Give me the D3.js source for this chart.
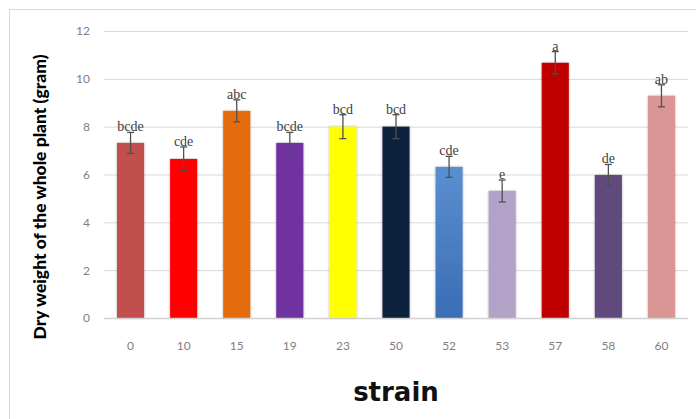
<!DOCTYPE html>
<meta charset="utf-8">
<html>
<head>
<style>
  body { margin: 0; background: #fff; }
  .tick text { fill: #7f7f7f; font-family: Lato, "Open Sans", sans-serif; font-size: 12px; }
  .grid line { stroke: #d9d9d9; }
  .sig { font-family: "Liberation Serif", "DejaVu Serif", serif; font-size: 14px; fill: #404040; }
</style>
<script src="https://d3js.org/d3.v7.min.js"></script>
</head>
<body>
<div id="chart"></div>
<script>
// data
var strains = ["0", "10", "15", "19", "23", "50", "52", "53", "57", "58", "60"];
var means   = [7.32, 6.65, 8.66, 7.32, 8.0, 8.0, 6.32, 5.31, 10.67, 5.98, 9.29];
var errs    = [0.44, 0.5, 0.46, 0.44, 0.5, 0.5, 0.44, 0.46, 0.47, 0.44, 0.46];
var letters = ["bcde", "cde", "abc", "bcde", "bcd", "bcd", "cde", "e", "a", "de", "ab"];
var colors  = ["#c0504d", "#ff0000", "#e46c0a", "#7030a0", "#ffff00", "#10243e",
               "#4a7fc1", "#b3a2c7", "#c00000", "#604a7b", "#d99694"];
var yTicks  = [0, 2, 4, 6, 8, 10, 12];

var W = 696, H = 419;
var svg = d3.select("#chart").append("svg")
  .attr("width", W).attr("height", H);

// outer frame of the chart area
svg.append("rect")
  .attr("x", 9.5).attr("y", 9.5)
  .attr("width", W).attr("height", H)
  .attr("fill", "#fff").attr("stroke", "#d9d9d9");

var x = d3.scaleBand().domain(strains).range([104, 688]).paddingInner(0.49).paddingOuter(0.245);
var y = d3.scaleLinear().domain([0, 12]).range([318, 31]);

// gridlines
svg.append("g").attr("class", "grid")
  .selectAll("line").data(yTicks.slice(1)).enter().append("line")
  .attr("x1", 104).attr("x2", 688)
  .attr("y1", d => y(d) + 0.5).attr("y2", d => y(d) + 0.5);

// y axis labels
svg.append("g")
  .attr("transform", "translate(104,0)")
  .call(d3.axisLeft(y).tickValues(yTicks).tickSize(0).tickPadding(14))
  .call(g => g.select(".domain").remove());

// shadow filter for the bars
var defs = svg.append("defs");
var f = defs.append("filter").attr("id", "shadow").attr("x", "-20%").attr("y", "-10%").attr("width", "140%").attr("height", "120%");
f.append("feDropShadow").attr("dx", 0).attr("dy", 0).attr("stdDeviation", 1.2)
  .attr("flood-color", "#000").attr("flood-opacity", 0.35);

var grad = defs.append("linearGradient").attr("id", "blue").attr("x1", 0).attr("x2", 0).attr("y1", 0).attr("y2", 1);
grad.append("stop").attr("offset", "0%").attr("stop-color", "#5b8fd0");
grad.append("stop").attr("offset", "100%").attr("stop-color", "#3a6db5");

svg.append("g").selectAll("rect").data(strains).enter().append("rect")
  .attr("x", d => x(d))
  .attr("y", (d, i) => y(means[i]))
  .attr("width", x.bandwidth())
  .attr("height", (d, i) => y(0) - y(means[i]))
  .attr("fill", (d, i) => i === 6 ? "url(#blue)" : colors[i])
  .attr("filter", "url(#shadow)");

// baseline
svg.append("line")
  .attr("x1", 104).attr("x2", 688)
  .attr("y1", y(0) + 0.5).attr("y2", y(0) + 0.5)
  .attr("stroke", "#d0d0d0").attr("stroke-width", 1.5);

// x axis labels
svg.append("g")
  .attr("transform", "translate(0," + y(0) + ")")
  .call(d3.axisBottom(x).tickSize(0).tickPadding(23))
  .call(g => g.select(".domain").remove());

// error bars
var eb = svg.append("g").attr("stroke", "#505050").attr("stroke-width", 1.3);
strains.forEach(function(s, i) {
  var cx = x(s) + x.bandwidth() / 2;
  var t = y(means[i] + errs[i]), b = y(means[i] - errs[i]);
  eb.append("line").attr("x1", cx).attr("x2", cx).attr("y1", t).attr("y2", b);
  eb.append("line").attr("x1", cx - 3.5).attr("x2", cx + 3.5).attr("y1", t).attr("y2", t);
  eb.append("line").attr("x1", cx - 3.5).attr("x2", cx + 3.5).attr("y1", b).attr("y2", b);
});

// significance letters
svg.append("g").selectAll("text").data(strains).enter().append("text")
  .attr("class", "sig")
  .attr("x", d => x(d) + x.bandwidth() / 2)
  .attr("y", (d, i) => y(means[i] + errs[i]) - 1)
  .attr("text-anchor", "middle")
  .text((d, i) => letters[i]);

// axis titles
svg.append("text")
  .attr("transform", "translate(46,197) rotate(-90)")
  .attr("text-anchor", "middle")
  .style("font-family", "Lato, sans-serif")
  .style("font-weight", "900")
  .style("font-size", "17.5px")
  .attr("fill", "#000")
  .text("Dry weight of the whole plant (gram)");

svg.append("text")
  .attr("x", 396).attr("y", 401)
  .attr("text-anchor", "middle")
  .style("font-family", "'DejaVu Sans', sans-serif")
  .style("font-weight", "bold")
  .style("font-size", "26px")
  .attr("fill", "#111")
  .text("strain");
</script>
</body>
</html>
